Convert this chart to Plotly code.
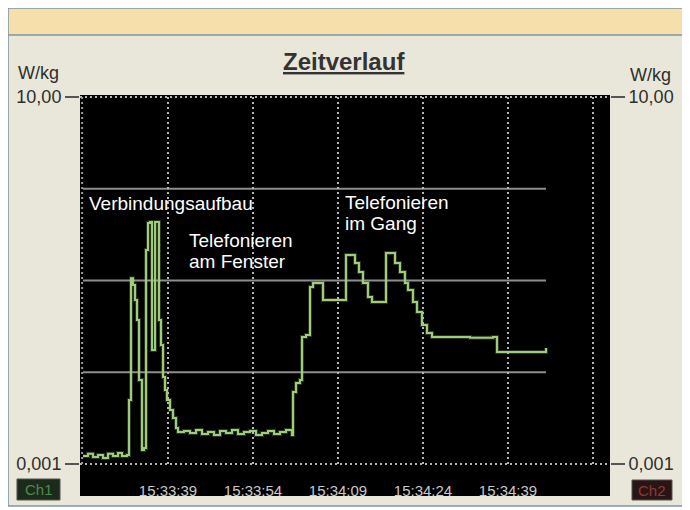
import plotly.graph_objects as go

# ---- data (time in seconds after 15:33:00, values in W/kg) ----
time_s = [24.00, 24.88, 25.77, 26.65, 27.53, 28.41, 29.29, 30.18, 30.88, 31.77,
          32.12, 32.47, 32.82, 33.18, 33.53, 33.88, 34.41, 34.76, 35.12, 35.47,
          35.82, 36.18, 36.71, 37.06, 37.41, 37.76, 38.12, 38.47, 38.82, 39.35,
          39.88, 40.41, 40.76,
          41.82, 42.88, 43.94, 45.00, 46.06, 47.12, 48.18, 49.24, 50.29, 51.35,
          52.41, 53.47, 54.53, 55.59, 56.65, 57.71, 58.76, 59.82, 60.88,
          61.06, 61.59, 62.29, 62.65, 63.35, 64.06, 64.59, 65.82, 66.35, 69.70,
          70.41, 71.47, 72.00, 72.70, 73.41, 74.29, 75.00, 76.94, 77.47, 78.53,
          79.06, 79.94, 80.82, 81.35, 82.23, 82.94, 83.82, 84.70, 85.59, 88.76,
          92.29, 96.35, 97.06, 101.12, 105.18, 105.71]
sar_wkg = [0.00122, 0.00129, 0.00119, 0.00125, 0.00116, 0.00129, 0.00122, 0.00132, 0.00122, 0.00125,
           0.00498, 0.106, 0.0893, 0.0612, 0.0371, 0.00823, 0.00142, 0.00149, 0.215, 0.424,
           0.435, 0.0175, 0.435, 0.435, 0.0371, 0.0198, 0.00887, 0.0064, 0.00498, 0.00388,
           0.00317, 0.00247, 0.00223,
           0.00229, 0.00218, 0.00235, 0.00212, 0.00223, 0.00207, 0.00229, 0.00218, 0.00235, 0.00212,
           0.00223, 0.00229, 0.00207, 0.00218, 0.00229, 0.00212, 0.00223, 0.00235, 0.00207,
           0.00609, 0.00764, 0.00823, 0.0242, 0.0255, 0.0849, 0.094, 0.094, 0.0612, 0.0612,
           0.190, 0.190, 0.155, 0.124, 0.094, 0.0661, 0.0583, 0.0583, 0.1994, 0.1994,
           0.155, 0.124, 0.094, 0.0787, 0.0583, 0.0454, 0.0327, 0.0268, 0.0242, 0.0242,
           0.0237, 0.0242, 0.0166, 0.0166, 0.0166, 0.0184]

tick_times = [39, 54, 69, 84, 99]
tick_labels = ["15:33:39", "15:33:54", "15:34:09", "15:34:24", "15:34:39"]
grid_times = [39, 54, 69, 84, 99, 114]
ref_levels = [1, 0.1, 0.01]
y_tick_vals = [0.001, 10]
y_tick_text = ["0,001", "10,00"]
x_range = [23.47, 117.0]
y_range_log = [-3.011, 1.0218]

notes = [
    ("Verbindungsaufbau", 0.0132, 0.7068),
    ("Telefonieren", 0.2019, 0.6081),
    ("am Fenster", 0.2019, 0.5500),
    ("Telefonieren", 0.4962, 0.7095),
    ("im Gang", 0.4962, 0.6514),
]

FONT = "Liberation Sans, Arial, sans-serif"
GREEN = "#9fcd7c"

fig = go.Figure()
fig.add_trace(go.Scatter(x=time_s, y=sar_wkg, mode="lines",
                         line=dict(color=GREEN, width=4, shape="hv"), opacity=0.25,
                         hoverinfo="skip", showlegend=False))
fig.add_trace(go.Scatter(x=time_s, y=sar_wkg, mode="lines",
                         line=dict(color=GREEN, width=2, shape="hv"), showlegend=False))
fig.add_trace(go.Scatter(x=time_s, y=sar_wkg, yaxis="y2", mode="lines",
                         line=dict(color=GREEN, width=0), opacity=0,
                         hoverinfo="skip", showlegend=False))

shapes = []
# outer panel + top band + black plot area
shapes.append(dict(type="rect", xref="paper", yref="paper", x0=-0.1358, x1=1.1377,
                   y0=-0.1108, y1=1.2351, fillcolor="#e9e7d9",
                   line=dict(color="#7f96a8", width=1.5), layer="below"))
shapes.append(dict(type="rect", xref="paper", yref="paper", x0=-0.1358, x1=1.1377,
                   y0=1.1622, y1=1.2351, fillcolor="#f7dfab",
                   line=dict(color="#7f96a8", width=1.5), layer="below"))
shapes.append(dict(type="rect", xref="paper", yref="paper", x0=0, x1=1, y0=-0.0838, y1=1,
                   fillcolor="#000000", line=dict(width=0), layer="below"))
# Ch boxes
shapes.append(dict(type="rect", xref="paper", yref="paper", x0=-0.1189, x1=-0.0377,
                   y0=-0.0946, y1=-0.0378, fillcolor="#1b2a1b",
                   line=dict(color="#555", width=1), layer="below"))
shapes.append(dict(type="rect", xref="paper", yref="paper", x0=1.0415, x1=1.117,
                   y0=-0.0946, y1=-0.0405, fillcolor="#2a1414",
                   line=dict(color="#555", width=1), layer="below"))
# reference level lines
for lv in ref_levels:
    shapes.append(dict(type="line", xref="x", yref="y", x0=min(time_s), x1=max(time_s),
                       y0=lv, y1=lv, line=dict(color="#8e8e8e", width=2), layer="below"))
# dotted grid
for gt in grid_times:
    shapes.append(dict(type="line", xref="x", yref="y", x0=gt, x1=gt,
                       y0=y_tick_vals[0], y1=y_tick_vals[1],
                       line=dict(color="#b5b5b5", width=2, dash="2px,3px"), layer="below"))
for yv in y_tick_vals:
    shapes.append(dict(type="line", xref="paper", yref="y", x0=0, x1=1, y0=yv, y1=yv,
                       line=dict(color="#b5b5b5", width=2, dash="2px,3px"), layer="below"))
shapes.append(dict(type="line", xref="paper", yref="y", x0=0.004, x1=0.004,
                   y0=y_tick_vals[0], y1=y_tick_vals[1],
                   line=dict(color="#9a9a9a", width=2, dash="2px,3px"), layer="below"))

annotations = []
for txt, ax_, ay_ in notes:
    annotations.append(dict(text=txt, xref="paper", yref="paper", x=ax_, y=ay_,
                            xanchor="left", yanchor="middle", showarrow=False,
                            font=dict(family=FONT, size=19, color="#ffffff")))
annotations.append(dict(text="<b><u>Zeitverlauf</u></b>", xref="paper", yref="paper",
                        x=0.499, y=1.0905, xanchor="center", yanchor="middle",
                        showarrow=False, font=dict(family=FONT, size=24, color="#333333")))
annotations.append(dict(text="W/kg", xref="paper", yref="paper", x=-0.0774, y=1.0595,
                        xanchor="center", yanchor="middle", showarrow=False,
                        font=dict(family=FONT, size=18, color="#2e2e2e")))
annotations.append(dict(text="W/kg", xref="paper", yref="paper", x=1.0755, y=1.0541,
                        xanchor="center", yanchor="middle", showarrow=False,
                        font=dict(family=FONT, size=18, color="#2e2e2e")))
annotations.append(dict(text="Ch1", xref="paper", yref="paper", x=-0.0783, y=-0.0662,
                        xanchor="center", yanchor="middle", showarrow=False,
                        font=dict(family=FONT, size=15, color="#4f8a4f")))
annotations.append(dict(text="Ch2", xref="paper", yref="paper", x=1.0792, y=-0.0676,
                        xanchor="center", yanchor="middle", showarrow=False,
                        font=dict(family=FONT, size=15, color="#8c3a3a")))

yaxis_common = dict(type="log", range=y_range_log, tickvals=y_tick_vals,
                    ticktext=y_tick_text, ticks="outside", ticklen=14, tickwidth=2,
                    tickcolor="#555555", showgrid=False, zeroline=False, showline=False,
                    automargin=False,
                    tickfont=dict(family=FONT, size=18, color="#2e2e2e"), fixedrange=True)

fig.update_layout(
    width=690, height=510,
    margin=dict(l=72, r=88, t=87, b=53, pad=0),
    paper_bgcolor="#ffffff", plot_bgcolor="rgba(0,0,0,0)",
    showlegend=False,
    xaxis=dict(range=x_range, tickvals=tick_times, ticktext=tick_labels,
               ticks="outside", ticklen=12, tickcolor="rgba(0,0,0,0)",
               showgrid=False, zeroline=False, automargin=False,
               showline=False, tickfont=dict(family=FONT, size=15, color="#c8c8c8")),
    yaxis=dict(**yaxis_common, side="left"),
    yaxis2=dict(**yaxis_common, side="right", overlaying="y"),
    shapes=shapes, annotations=annotations,
)

fig.write_html("out.html")
